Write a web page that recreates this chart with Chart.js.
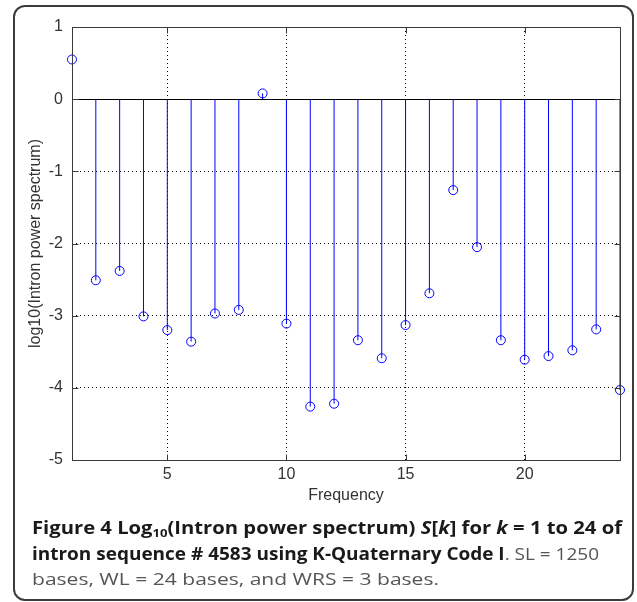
<!DOCTYPE html>
<html>
<head>
<meta charset="utf-8">
<script src="https://cdn.jsdelivr.net/npm/chart.js@4.4.1/dist/chart.umd.min.js"></script>
<style>
html,body{margin:0;padding:0;background:#fff;}
#wrap{position:relative;width:637px;height:602px;overflow:hidden;background:#fff;}
#frame{position:absolute;left:13px;top:5px;width:621px;height:596px;border:2px solid #3c3c3c;border-radius:12px;box-sizing:border-box;}
#c{position:absolute;left:0;top:0;}
.cap{position:absolute;left:32px;white-space:nowrap;font-family:"Open Sans",sans-serif;font-size:17px;line-height:20px;color:#555;transform-origin:0 0;}
.cap b{color:#1a1a1a;font-weight:700;}
.cap sub{font-size:11px;vertical-align:-3px;line-height:0;}
</style>
</head>
<body>
<div id="wrap">
  <div id="frame"></div>
  <canvas id="c" width="637" height="602"></canvas>
  <div class="cap" id="l1" data-w="590" style="top:518px"><b>Figure 4 Log<sub>10</sub>(Intron power spectrum) <i>S</i>[<i>k</i>] for <i>k</i> = 1 to 24 of</b></div>
  <div class="cap" id="l2" data-w="567" style="top:544px"><b>intron sequence # 4583 using K-Quaternary Code I</b>. SL = 1250</div>
  <div class="cap" id="l3" data-w="407" style="top:569px">bases, WL = 24 bases, and WRS = 3 bases.</div>
</div>
<script>
// ---- data ----
const frequencies = [1,2,3,4,5,6,7,8,9,10,11,12,13,14,15,16,17,18,19,20,21,22,23,24];
const logPower = [0.55,-2.51,-2.38,-3.01,-3.20,-3.36,-2.97,-2.92,0.08,-3.11,-4.26,-4.22,
                  -3.34,-3.59,-3.13,-2.69,-1.26,-2.05,-3.34,-3.61,-3.56,-3.48,-3.19,-4.03];
const xTickValues = [5,10,15,20];
const yTickValues = [-5,-4,-3,-2,-1,0,1];
const xTitle = 'Frequency';
const yTitle = 'log10(Intron power spectrum)';

const STEM = '#0000ff';
const AXIS = '#3a3a3a';

const stemPlugin = {
  id: 'stems',
  beforeDatasetsDraw(chart) {
    const {ctx, chartArea: a, scales: {x, y}} = chart;
    ctx.save();
    ctx.beginPath();
    ctx.rect(a.left, a.top, a.right - a.left, a.bottom - a.top);
    ctx.clip();
    // baseline
    const y0 = Math.round(y.getPixelForValue(0)) + 0.5;
    ctx.strokeStyle = STEM;
    ctx.lineWidth = 1;
    frequencies.forEach((f, i) => {
      const px = x.getPixelForValue(f);
      ctx.beginPath();
      ctx.moveTo(px, y0);
      ctx.lineTo(px, y.getPixelForValue(logPower[i]));
      ctx.stroke();
    });
    ctx.strokeStyle = '#000';
    ctx.beginPath();
    ctx.moveTo(a.left, y0);
    ctx.lineTo(a.right, y0);
    ctx.stroke();
    ctx.restore();
  },
  afterDraw(chart) {
    const {ctx, chartArea: a, scales: {x, y}} = chart;
    ctx.save();
    ctx.strokeStyle = AXIS;
    ctx.lineWidth = 1;
    const L = Math.round(a.left) + 0.5, R = Math.round(a.right) + 0.5;
    const T = Math.round(a.top) + 0.5, B = Math.round(a.bottom) + 0.5;
    ctx.strokeRect(L, T, R - L, B - T);
    const tl = 6;
    ctx.beginPath();
    xTickValues.forEach(v => {
      const px = Math.round(x.getPixelForValue(v)) + 0.5;
      ctx.moveTo(px, B); ctx.lineTo(px, B - tl);
      ctx.moveTo(px, T); ctx.lineTo(px, T + tl);
    });
    yTickValues.forEach(v => {
      const py = Math.round(y.getPixelForValue(v)) + 0.5;
      ctx.moveTo(L, py); ctx.lineTo(L + tl, py);
      ctx.moveTo(R, py); ctx.lineTo(R - tl, py);
    });
    ctx.stroke();
    ctx.restore();
  }
};

const tickFont = {family: '"Liberation Sans", Arial, sans-serif', size: 16};

new Chart(document.getElementById('c'), {
  type: 'scatter',
  data: {
    datasets: [{
      data: frequencies.map((f, i) => ({x: f, y: logPower[i]})),
      showLine: false,
      pointStyle: 'circle',
      pointRadius: 4.5,
      pointHoverRadius: 4.5,
      pointBorderWidth: 1,
      pointBorderColor: STEM,
      pointBackgroundColor: 'rgba(0,0,0,0)',
      clip: false
    }]
  },
  options: {
    responsive: false,
    animation: false,
    events: [],
    layout: {padding: {left: 0, top: 27, right: 17, bottom: 92}},
    plugins: {legend: {display: false}, tooltip: {enabled: false}},
    scales: {
      x: {
        type: 'linear',
        min: 1, max: 24,
        afterBuildTicks: s => { s.ticks = xTickValues.map(v => ({value: v})); },
        afterFit: s => { s.height = 50; },
        grid: {color: '#000', lineWidth: 1, drawTicks: false},
        border: {display: false, dash: [1, 3]},
        ticks: {font: tickFont, color: '#333', padding: 5, maxRotation: 0, autoSkip: false},
        title: {display: true, text: xTitle, font: tickFont, color: '#333', padding: {top: 0, bottom: 5}}
      },
      y: {
        min: -5, max: 1,
        afterBuildTicks: s => { s.ticks = yTickValues.map(v => ({value: v})); },
        afterFit: s => { s.width = 72; },
        grid: {color: '#000', lineWidth: 1, drawTicks: false},
        border: {display: false, dash: [1, 3]},
        ticks: {font: tickFont, color: '#333', padding: 9, autoSkip: false},
        title: {display: true, text: yTitle, font: tickFont, color: '#333', padding: {top: 26, bottom: 0}}
      }
    }
  },
  plugins: [stemPlugin]
});

// fit caption lines to their printed widths
document.querySelectorAll('.cap').forEach(el => {
  const w = el.getBoundingClientRect().width;
  const target = +el.dataset.w;
  el.style.transform = 'scaleX(' + (target / w) + ')';
});
</script>
</body>
</html>
